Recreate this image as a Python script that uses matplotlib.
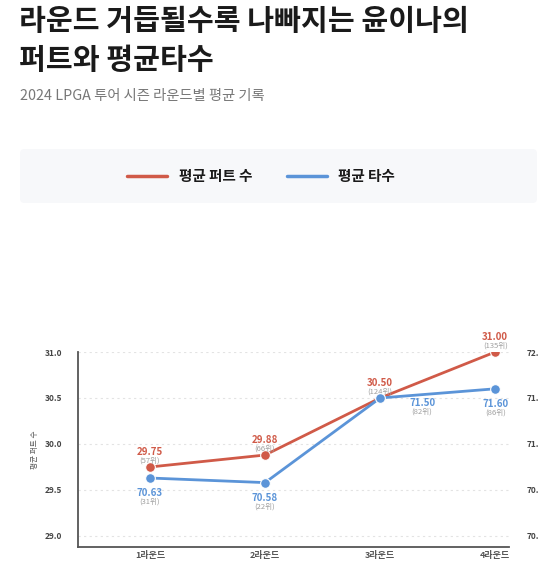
import matplotlib.pyplot as plt
from matplotlib.patches import FancyBboxPatch, Rectangle

plt.rcParams['font.family'] = ['Noto Sans CJK KR', 'DejaVu Sans']

rounds = ["1라운드", "2라운드", "3라운드", "4라운드"]
putts = [29.75, 29.88, 30.50, 31.00]
putt_ranks = ["(57위)", "(66위)", "(124위)", "(135위)"]
scores = [70.63, 70.58, 71.50, 71.60]
score_ranks = ["(31위)", "(22위)", "(82위)", "(86위)"]
left_ticks = [29.0, 29.5, 30.0, 30.5, 31.0]
right_ticks = [70.0, 70.5, 71.0, 71.5, 72.0]

RED = "#d05a48"
BLUE = "#5b94d8"

W, H = 559, 563
fig = plt.figure(figsize=(W / 100, H / 100), dpi=100)

# title block
fig.text(19 / W, 1 - 21 / H, "라운드 거듭될수록 나빠지는 윤이나의", fontsize=21,
         fontweight="bold", color="#1a1a1a", va="center", ha="left")
fig.text(19 / W, 1 - 60 / H, "퍼트와 평균타수", fontsize=21,
         fontweight="bold", color="#1a1a1a", va="center", ha="left")
fig.text(20 / W, 1 - 96 / H, "2024 LPGA 투어 시즌 라운드별 평균 기록", fontsize=10.3,
         color="#777777", va="center", ha="left")

# legend box
box = FancyBboxPatch((20 / W, 1 - 203 / H), 517 / W, 54 / H,
                     boxstyle="round,pad=0,rounding_size=0.008",
                     transform=fig.transFigure, facecolor="#f7f8fa",
                     edgecolor="none")
fig.patches.append(box)
ly = 1 - 176 / H
fig.lines.append(plt.Line2D([127 / W, 167 / W], [ly, ly], transform=fig.transFigure,
                            color=RED, lw=2.5, solid_capstyle="round"))
fig.text(179 / W, ly, "평균 퍼트 수", fontsize=10.5, fontweight="bold",
         color="#1a1a1a", va="center", ha="left")
fig.lines.append(plt.Line2D([287 / W, 327 / W], [ly, ly], transform=fig.transFigure,
                            color=BLUE, lw=2.5, solid_capstyle="round"))
fig.text(338 / W, ly, "평균 타수", fontsize=10.5, fontweight="bold",
         color="#1a1a1a", va="center", ha="left")

# chart
ax = fig.add_axes([78 / W, 16 / H, 431 / W, 195 / H])
ax2 = ax.twinx()
x = list(range(len(rounds)))

ax.plot(x, putts, color=RED, lw=2, marker="o", markersize=7,
        markeredgecolor="white", markeredgewidth=0.8, zorder=3)
ax2.plot(x, scores, color=BLUE, lw=2, marker="o", markersize=7,
         markeredgecolor="white", markeredgewidth=0.8, zorder=3)

ax.set_xlim(-0.626, 3.12)
ax.set_ylim(28.88, 31.0)
ax2.set_ylim(69.88, 72.0)

ax.set_yticks(left_ticks)
ax.set_yticklabels([f"{v:.1f}" for v in left_ticks], fontsize=6,
                   fontweight="bold", color="#444444")
ax.set_xticks(x)
ax.set_xticklabels(rounds, fontsize=6.5, fontweight="bold", color="#555555")
ax.tick_params(axis="x", length=0, pad=3)
ax.tick_params(axis="y", length=0, pad=11.5)
ax.set_ylabel("평균 퍼트 수", fontsize=5.5, color="#555555", labelpad=4)

ax2.set_yticks(right_ticks)
ax2.set_yticklabels([f"{v:.1f}" for v in right_ticks], fontsize=6,
                    fontweight="bold", color="#444444")
ax2.tick_params(axis="y", length=0, pad=13)

for a in (ax, ax2):
    for s in ("top", "right"):
        a.spines[s].set_visible(False)
ax2.spines["left"].set_visible(False)
ax2.spines["bottom"].set_visible(False)
ax.spines["left"].set_color("#555555")
ax.spines["bottom"].set_color("#555555")
ax.spines["left"].set_linewidth(1.3)
ax.spines["bottom"].set_linewidth(1.3)

for v in left_ticks:
    ax.axhline(v, color="#e3e3e3", lw=0.8, ls=(0, (2, 3)), zorder=0)

# data labels
for i, (v, r) in enumerate(zip(putts, putt_ranks)):
    ax.annotate(f"{v:.2f}", (i, v), xytext=(0, 15), textcoords="offset pixels",
                ha="center", va="center", fontsize=7, fontweight="bold", color=RED)
    ax.annotate(r, (i, v), xytext=(0, 6), textcoords="offset pixels",
                ha="center", va="center", fontsize=5.5, color="#a0a0a0")

blue_off = [(0, 0), (0, 0), (42, 10), (0, 0)]
for i, (v, r) in enumerate(zip(scores, score_ranks)):
    dx, dy = blue_off[i]
    ax2.annotate(f"{v:.2f}", (i, v), xytext=(dx, -15 + dy), textcoords="offset pixels",
                 ha="center", va="center", fontsize=7, fontweight="bold", color=BLUE)
    ax2.annotate(r, (i, v), xytext=(dx, -24 + dy), textcoords="offset pixels",
                 ha="center", va="center", fontsize=5.5, color="#a0a0a0")

# right tick labels are cut off by the container edge
clip = Rectangle((0, 0), 538 / W, 1, transform=fig.transFigure, facecolor="none")
for lab in ax2.get_yticklabels():
    lab.set_clip_path(clip)
    lab.set_clip_on(True)

fig.savefig("out.png", dpi=100)
